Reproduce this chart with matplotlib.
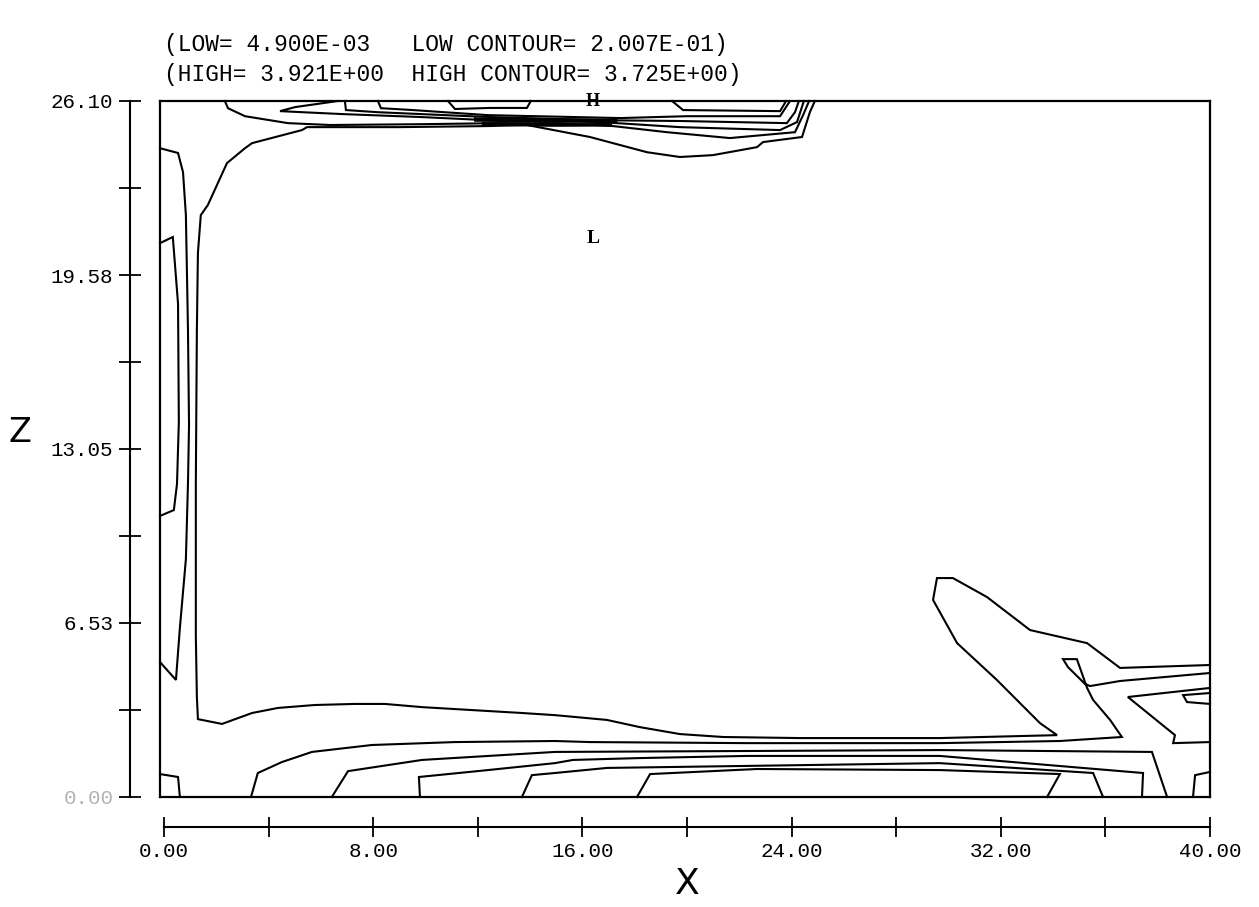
import matplotlib.pyplot as plt

# Contour traces of the field, each one an ordered list of (x, z) points.
left_outer = [(-0.15, 24.33), (0.54, 24.15), (0.73, 23.43), (0.84, 21.82), (0.92, 17.51),
              (0.96, 13.95), (0.92, 11.77), (0.84, 8.92), (0.61, 6.34), (0.46, 4.39),
              (-0.15, 5.06)]
left_inner = [(-0.15, 20.77), (0.34, 21.00), (0.54, 18.49), (0.57, 14.06), (0.50, 11.74),
              (0.38, 10.76), (-0.15, 10.54)]
main_loop = [(24.89, 26.10), (24.70, 25.68), (24.40, 24.75), (22.91, 24.56), (22.68, 24.37),
             (20.99, 24.07), (19.73, 24.00), (18.47, 24.18), (16.29, 24.75), (13.88, 25.20),
             (12.39, 25.16), (9.02, 25.12), (5.47, 25.12), (5.28, 25.01), (3.37, 24.52),
             (3.10, 24.33), (2.41, 23.77), (1.68, 22.20), (1.41, 21.82), (1.30, 20.40),
             (1.26, 17.51), (1.22, 11.77), (1.22, 6.04), (1.26, 3.75), (1.30, 2.92),
             (2.22, 2.74), (3.37, 3.15), (4.36, 3.34), (5.77, 3.45), (7.30, 3.49),
             (8.45, 3.49), (9.87, 3.37), (11.78, 3.26), (13.69, 3.15), (14.95, 3.07),
             (16.94, 2.89), (18.20, 2.62), (19.73, 2.36), (21.38, 2.25), (24.32, 2.21),
             (29.67, 2.21), (34.15, 2.32), (33.50, 2.77), (33.00, 3.26), (31.85, 4.39),
             (30.33, 5.77), (29.41, 7.39), (29.56, 8.21), (30.17, 8.21), (31.47, 7.50),
             (33.12, 6.26), (35.30, 5.77), (36.56, 4.84), (40.00, 4.95)]
bottom_e = [(3.33, 0.00), (3.59, 0.90), (4.51, 1.31), (5.66, 1.69), (7.95, 1.95),
            (11.13, 2.06), (14.95, 2.10), (16.29, 2.06), (22.29, 2.02), (29.67, 2.02),
            (34.26, 2.10), (36.63, 2.25), (36.18, 2.89), (35.53, 3.64), (35.30, 4.09),
            (34.91, 5.17), (34.38, 5.17), (34.57, 4.87), (35.22, 4.24), (35.41, 4.16),
            (36.56, 4.35), (40.00, 4.65)]
bottom_f = [(6.42, 0.00), (7.04, 0.97), (9.87, 1.39), (14.95, 1.69), (29.67, 1.76),
            (37.78, 1.69), (38.36, 0.00)]
bottom_g = [(9.79, 0.00), (9.75, 0.75), (12.39, 1.01), (14.95, 1.27), (15.64, 1.39),
            (18.20, 1.46), (22.29, 1.54), (29.67, 1.54), (37.44, 0.90), (37.40, 0.00)]
bottom_h = [(13.69, 0.00), (14.07, 0.82), (14.95, 0.90), (16.94, 1.09), (29.67, 1.27),
            (35.53, 0.90), (35.91, 0.00)]
bottom_i = [(18.09, 0.00), (18.59, 0.86), (22.68, 1.05), (29.67, 1.01), (34.26, 0.86),
            (33.77, 0.00)]
corner_left = [(-0.15, 0.86), (0.54, 0.75), (0.61, 0.00)]
corner_right = [(39.35, 0.00), (39.43, 0.82), (40.00, 0.94)]
right_vee = [(40.00, 4.09), (36.86, 3.75), (38.66, 2.32), (38.59, 2.02), (40.00, 2.06)]
right_tongue = [(40.00, 3.90), (38.97, 3.82), (39.12, 3.56), (40.00, 3.49)]
top_1 = [(2.33, 26.10), (2.45, 25.83), (3.10, 25.53), (4.74, 25.27), (6.35, 25.20),
         (9.79, 25.23), (12.85, 25.27), (15.14, 25.27), (17.17, 25.16), (19.24, 24.93),
         (21.64, 24.71), (24.13, 24.93), (24.44, 25.57), (24.67, 26.10)]
top_2 = [(6.65, 26.10), (5.01, 25.87), (4.44, 25.72), (6.81, 25.61), (9.79, 25.50),
         (12.39, 25.38), (16.67, 25.31), (19.73, 25.12), (23.56, 25.01), (24.21, 25.31),
         (24.47, 26.10)]
top_3 = [(6.92, 26.10), (6.96, 25.76), (8.18, 25.68), (12.39, 25.50), (16.67, 25.38),
         (19.73, 25.35), (23.82, 25.27), (24.13, 25.68), (24.28, 26.10)]
top_4 = [(8.18, 26.10), (8.30, 25.83), (9.52, 25.76), (12.39, 25.57), (17.44, 25.46),
         (20.00, 25.53), (23.56, 25.53), (23.94, 26.10)]
top_cap_a = [(19.43, 26.10), (19.85, 25.76), (23.56, 25.72), (23.79, 26.10)]
top_cap_b = [(10.86, 26.10), (11.13, 25.80), (12.47, 25.84), (13.88, 25.84), (14.03, 26.10)]
# packed levels inside the steep band under the top wall
band_1 = [(11.90, 25.44), (14.50, 25.42), (17.30, 25.40), (17.30, 25.33), (14.50, 25.34),
          (11.90, 25.36), (11.90, 25.44)]
band_2 = [(12.20, 25.27), (14.80, 25.22), (17.10, 25.24), (17.10, 25.18), (14.80, 25.17),
          (12.20, 25.21), (12.20, 25.27)]

contours = [left_outer, left_inner, main_loop, bottom_e, bottom_f, bottom_g, bottom_h,
            bottom_i, corner_left, corner_right, right_vee, right_tongue,
            top_1, top_2, top_3, top_4, top_cap_a, top_cap_b, band_1, band_2]

# Axis ticks
x_major = [0, 8, 16, 24, 32, 40]
x_minor = [4, 12, 20, 28, 36]
x_labels = ["0.00", "8.00", "16.00", "24.00", "32.00", "40.00"]
z_major = [0, 6.525, 13.05, 19.575, 26.10]
z_minor = [3.2625, 9.7875, 16.3125, 22.8375]
z_labels = ["0.00", "6.53", "13.05", "19.58", "26.10"]

low, low_contour = "4.900E-03", "2.007E-01"
high, high_contour = "3.921E+00", "3.725E+00"

W, H = 1259, 907
mono = "Liberation Mono"

fig = plt.figure(figsize=(W / 100, H / 100), dpi=100)

# plotting frame
ax = fig.add_axes([160 / W, 1 - 797 / H, 1050 / W, 696 / H])
for path in contours:
    xs, zs = zip(*path)
    ax.plot(xs, zs, color="black", lw=1.5, solid_joinstyle="miter", clip_on=False)
ax.set_xlim(-0.15, 40)
ax.set_ylim(0, 26.1)
ax.set_xticks([])
ax.set_yticks([])
for sp in ax.spines.values():
    sp.set_linewidth(1.6)
ax.text(16.4, 26.1, "H", ha="center", va="center", family="Liberation Serif",
        weight="bold", fontsize=13)
ax.text(16.4, 20.96, "L", ha="center", va="center", family="Liberation Serif",
        weight="bold", fontsize=14)

# detached x axis
ax_x = fig.add_axes([164 / W, 1 - 827 / H, 1046 / W, 0.0001])
ax_x.patch.set_visible(False)
for side in ["top", "left", "right"]:
    ax_x.spines[side].set_visible(False)
ax_x.spines["bottom"].set_linewidth(1.5)
ax_x.set_xlim(0, 40)
ax_x.set_yticks([])
ax_x.set_xticks(x_major)
ax_x.set_xticklabels(x_labels, family=mono, fontsize=15)
ax_x.set_xticks(x_minor, minor=True)
ax_x.tick_params(axis="x", which="both", direction="inout", length=14, width=1.3, pad=4)
ax_x.set_xlabel("X", fontsize=26, family="DejaVu Sans", labelpad=4)

# detached z axis
ax_z = fig.add_axes([130 / W, 1 - 797 / H, 0.0001, 696 / H])
ax_z.patch.set_visible(False)
for side in ["top", "bottom", "right"]:
    ax_z.spines[side].set_visible(False)
ax_z.spines["left"].set_linewidth(1.5)
ax_z.set_ylim(0, 26.1)
ax_z.set_xticks([])
ax_z.set_yticks(z_major)
ax_z.set_yticklabels(z_labels, family=mono, fontsize=15)
ax_z.set_yticks(z_minor, minor=True)
ax_z.tick_params(axis="y", which="both", direction="inout", length=16, width=1.3, pad=4)
ax_z.get_yticklabels()[0].set_alpha(0.3)
fig.text(20 / W, 1 - 432 / H, "Z", fontsize=24, family="DejaVu Sans",
         ha="center", va="center")

fig.text(164 / W, 1 - 44 / H, f"(LOW= {low}   LOW CONTOUR= {low_contour})",
         family=mono, fontsize=16.5, va="center")
fig.text(164 / W, 1 - 75 / H, f"(HIGH= {high}  HIGH CONTOUR= {high_contour})",
         family=mono, fontsize=16.5, va="center")

fig.savefig("out.png", dpi=100)
